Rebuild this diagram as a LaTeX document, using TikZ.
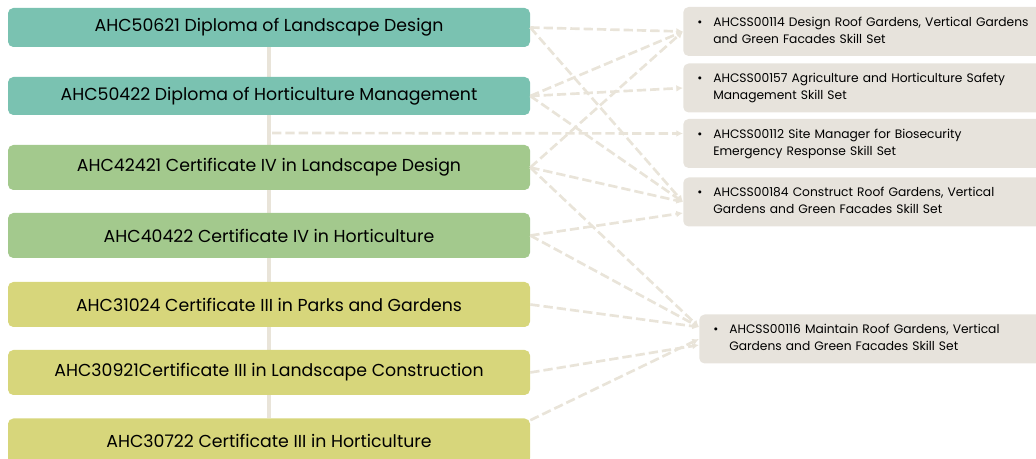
\documentclass[tikz,border=0pt]{standalone}
\usepackage{fontspec}
\setmainfont{Poppins}
\usetikzlibrary{arrows.meta,backgrounds}
\definecolor{dipteal}{HTML}{7AC2B1}
\definecolor{certgreen}{HTML}{A3C98D}
\definecolor{certolive}{HTML}{D7D67B}
\definecolor{skillgrey}{HTML}{E7E3DC}
\definecolor{linkbeige}{HTML}{E9E4D9}
\newcommand{\skillitem}[2]{\begin{tabular}{@{}p{12pt}@{}l@{}}\textbullet & #1\\ & #2\end{tabular}}
\begin{document}
\begin{tikzpicture}[x=0.75pt, y=-0.75pt,
    qual/.style={rounded corners=4pt, inner sep=0pt, minimum width=391.5pt,
      minimum height=33.75pt, font=\fontsize{13}{16}\selectfont},
    skill/.style={rounded corners=4pt, fill=skillgrey, anchor=west, inner xsep=10.5pt,
      text width=250.5pt, minimum height=36.75pt, align=left,
      font=\fontsize{9.2}{12.75}\selectfont},
    link/.style={draw=linkbeige, line width=2pt, dash pattern=on 7pt off 3pt,
      -{Latex[length=5pt,width=5pt]}},
    trunk/.style={draw=linkbeige, line width=2.5pt}]
  \clip (0,0) rectangle (1036,459);
  \draw
    (269,27.5) node[qual, fill=dipteal, minimum height=29.25pt] (q1){AHC50621 Diploma of Landscape Design}
    (269,96) node[qual, fill=dipteal, minimum height=28.5pt] (q2){AHC50422 Diploma of Horticulture Management}
    (269,167.5) node[qual, fill=certgreen] (q3){AHC42421 Certificate IV in Landscape Design}
    (269,235.5) node[qual, fill=certgreen] (q4){AHC40422 Certificate IV in Horticulture}
    (269,304.5) node[qual, fill=certolive] (q5){AHC31024 Certificate III in Parks and Gardens}
    (269,372.5) node[qual, fill=certolive] (q6){AHC30921Certificate III in Landscape Construction}
    (269,441) node[qual, fill=certolive] (q7){AHC30722 Certificate III in Horticulture};
  \draw
    (683,31.5) node[skill] (s1){\skillitem{AHCSS00114 Design Roof Gardens, Vertical Gardens}{and Green Facades Skill Set}}
    (683,88) node[skill] (s2){\skillitem{AHCSS00157 Agriculture and Horticulture Safety}{Management Skill Set}}
    (683,143.5) node[skill] (s3){\skillitem{AHCSS00112 Site Manager for Biosecurity}{Emergency Response Skill Set}}
    (683,202) node[skill] (s4){\skillitem{AHCSS00184 Construct Roof Gardens, Vertical}{Gardens and Green Facades Skill Set}}
    (699,339) node[skill] (s5){\skillitem{AHCSS00116 Maintain Roof Gardens, Vertical}{Gardens and Green Facades Skill Set}};
  \coordinate (hub) at (272,133);
  \begin{pgfonlayer}{background}
    \draw[trunk] (q1.south) -- (q7.north);
  \end{pgfonlayer}
  \begin{scope}[link]
    \draw (q1.east) to (s1.west);
    \draw (q1.east) to (s4.west);
    \draw (q2.east) to (s1.west);
    \draw (q2.east) to (s2.west);
    \draw (q2.east) to (s4.west);
    \draw (hub) to ([yshift=7.5pt]s3.west);
    \draw (q3.east) to (s1.west);
    \draw (q3.east) to (s4.west);
    \draw (q3.east) to ([yshift=9pt]s5.west);
    \draw (q4.east) to ([yshift=-8.25pt]s4.west);
    \draw (q4.east) to ([yshift=9pt]s5.west);
    \draw (q5.east) to ([yshift=9pt]s5.west);
    \draw (q6.east) to ([yshift=-4.5pt]s5.west);
    \draw ([yshift=-1.5pt]q7.north east) to (s5.west);
  \end{scope}
\end{tikzpicture}
\end{document}
